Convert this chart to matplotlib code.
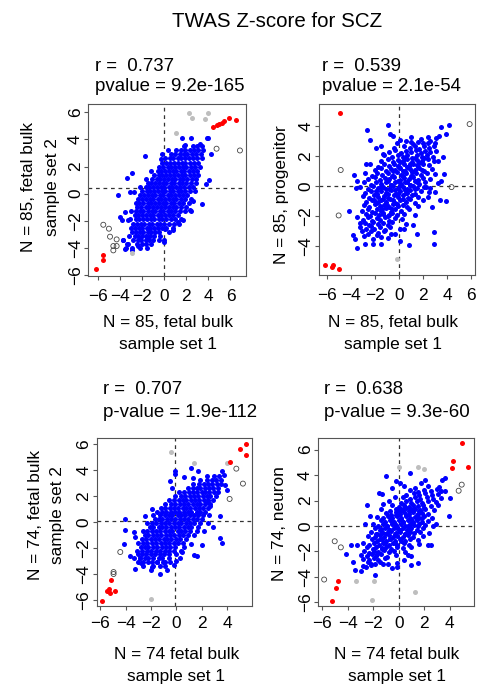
import matplotlib
matplotlib.use("Agg")
import matplotlib.pyplot as plt

plt.rcParams['font.family'] = ['Liberation Sans', 'DejaVu Sans']

W, H = 496, 691

title = "TWAS Z-score for SCZ"

# ---------------- panel 1: fetal bulk set 1 vs set 2 (N = 85) ----------------
p1_r = "r =  0.737"
p1_p = "pvalue = 9.2e-165"
p1_xlab = ["N = 85, fetal bulk", "sample set 1"]
p1_ylab = ["N = 85, fetal bulk", "sample set 2"]
p1_hline, p1_vline = 0.43, 0.0
p1_red = [(-6.19, -5.58), (-5.59, -4.55), (-5.53, -4.86), (4.38, 4.91), (4.77, 5.04),
          (4.98, 5.14), (5.2, 5.23), (5.44, 5.33), (5.86, 5.58), (6.47, 5.41)]
p1_grey = [(2.24, 5.95), (2.48, 5.6), (3.69, 5.53), (3.99, 5.97), (1.03, 4.5), (-2.96, -4.35)]
p1_open = [(4.74, 3.32), (6.86, 3.19), (-5.53, -2.29), (-5.02, -2.58), (-4.92, -3.17),
           (-4.32, -3.37), (-4.62, -3.86), (-4.32, -3.86), (-4.62, -4.18)]
p1_blue_out = [(-1.75, 2.75), (-3.41, 1.15), (-2.96, 1.55), (-4.23, -0.07), (-3.11, 0.12),
               (-2.72, 0.12), (-4.02, -1.72), (-3.56, -1.35), (-3.8, -1.97), (-3.32, -1.97),
               (-3.72, -3.44), (-3.41, -3.69), (-3.56, -4.05), (-2.96, -4.18), (-2.36, -3.86),
               (-2.2, -3.32), (-1.6, -3.19), (-1.45, -2.58), (-0.03, -3.56), (0.06, -2.58),
               (0.82, -2.7), (1.27, -2.09), (1.72, -1.97), (2.33, -1.23), (2.63, -0.57),
               (3.38, -0.79), (4.05, 0.98), (3.75, 0.74), (4.23, 2.9), (3.84, 4.1),
               (3.99, 4.1), (3.23, 3.69), (2.42, 4.1), (1.57, 4.1), (1.87, 3.56),
               (-0.24, 2.9), (-0.3, 2.58), (0.36, 3.19)]
p1_blue_rows = [
    (-4.0, [-3.5, -2.9, -2.2, -1.6]),
    (-3.7, [-3.3, -2.5, -2.0, -1.7, -1.2]),
    (-3.4, [-3.7, -2.8, -2.4, -2.1, -1.7, -1.4, -1.0, -0.5, 0.0]),
    (-3.1, [-3.2, -2.7, -2.4, -2.0, -1.7, -1.3, -0.9, -0.4]),
    (-2.8, [-2.9, -2.6, -2.2, -1.9, -1.5, -1.2, -0.8, -0.5, 0.4]),
    (-2.5, [-3.0, -2.7, -2.3, -2.0, -1.6, -1.3, -0.9, -0.6, -0.2, 0.2, 0.8]),
    (-2.2, [-2.8, -2.5, -2.1, -1.8, -1.4, -1.1, -0.7, -0.4, 0.0, 0.4, 0.9, 1.3]),
    (-1.9, [-3.1, -2.6, -2.3, -1.9, -1.6, -1.2, -0.9, -0.5, -0.2, 0.2, 0.6, 1.0, 1.5]),
    (-1.6, [-2.7, -2.4, -2.0, -1.7, -1.3, -1.0, -0.6, -0.3, 0.1, 0.4, 0.8, 1.2]),
    (-1.3, [-3.0, -2.6, -2.2, -1.9, -1.5, -1.1, -0.8, -0.4, -0.1, 0.3, 0.6, 1.0, 1.4, 1.9, 2.4]),
    (-1.0, [-2.5, -2.1, -1.7, -1.4, -1.0, -0.7, -0.3, 0.1, 0.4, 0.8, 1.1, 1.5, 2.0]),
    (-0.7, [-2.6, -2.3, -1.9, -1.5, -1.2, -0.8, -0.5, -0.1, 0.2, 0.6, 0.9, 1.3, 1.7, 2.2]),
    (-0.4, [-2.4, -2.0, -1.7, -1.3, -1.0, -0.6, -0.3, 0.1, 0.4, 0.8, 1.1, 1.5, 1.9, 2.4]),
    (-0.1, [-2.2, -1.8, -1.5, -1.1, -0.8, -0.4, -0.1, 0.3, 0.6, 1.0, 1.3, 1.7, 2.1]),
    (0.2, [-2.0, -1.6, -1.3, -0.9, -0.6, -0.2, 0.1, 0.5, 0.8, 1.2, 1.5, 1.9, 2.3, 2.8]),
    (0.5, [-2.2, -1.7, -1.4, -1.0, -0.7, -0.3, 0.0, 0.4, 0.7, 1.1, 1.4, 1.8, 2.2, 2.6]),
    (0.8, [-1.5, -1.2, -0.8, -0.5, -0.1, 0.2, 0.6, 0.9, 1.3, 1.6, 2.0, 2.4, 2.9]),
    (1.1, [-1.7, -1.1, -0.7, -0.4, 0.0, 0.3, 0.7, 1.0, 1.4, 1.7, 2.1, 2.5, 2.9]),
    (1.4, [-0.9, -0.5, -0.2, 0.2, 0.5, 0.9, 1.2, 1.6, 1.9, 2.3, 2.7, 3.1]),
    (1.7, [-1.2, -0.6, -0.3, 0.1, 0.4, 0.8, 1.1, 1.5, 1.8, 2.2, 2.6, 3.0]),
    (2.0, [-0.5, -0.1, 0.3, 0.6, 1.0, 1.3, 1.7, 2.0, 2.4, 2.8, 3.2]),
    (2.3, [-0.2, 0.2, 0.5, 0.9, 1.2, 1.6, 1.9, 2.3, 2.7, 3.1]),
    (2.6, [0.1, 0.5, 0.8, 1.2, 1.5, 1.9, 2.2, 2.6, 3.0, 3.4]),
    (2.9, [0.6, 1.0, 1.4, 1.8, 2.1, 2.5, 2.9, 3.3]),
    (3.2, [1.1, 1.5, 1.9, 2.3, 2.7, 3.1, 3.5]),
    (3.5, [1.8, 2.6, 3.0, 3.4]),
]

# ---------------- panel 2: fetal bulk set 1 vs progenitor (N = 85) ----------------
p2_r = "r =  0.539"
p2_p = "pvalue = 2.1e-54"
p2_xlab = ["N = 85, fetal bulk", "sample set 1"]
p2_ylab = ["N = 85, progenitor"]
p2_hline, p2_vline = 0.0, 0.0
p2_red = [(-4.92, 4.89), (-6.1, -5.24), (-5.55, -5.38), (-5.47, -5.29), (-5.0, -5.56)]
p2_grey = [(-0.17, -4.84)]
p2_open = [(5.86, 4.13), (-4.83, 1.07), (-5.0, -1.96), (4.36, -0.07)]
p2_blue_out = [(-2.62, 3.76), (-2.43, 3.09), (-0.91, 4.04), (-0.77, 3.44), (-0.5, 3.31),
               (-1.88, 2.56), (-1.33, 2.16), (-2.71, 1.49), (-3.76, 0.71), (-3.45, 0.33),
               (-3.54, -0.13), (-4.17, -1.64), (-3.45, -2.07), (-3.26, -2.44), (-3.81, -3.24),
               (-3.67, -3.51), (-3.45, -4.11), (-2.85, -3.84), (-2.15, -3.84), (-1.46, -3.4),
               (-1.46, -3.84), (-0.36, -3.22), (0.06, -3.67), (0.39, -2.84), (0.8, -3.91),
               (1.16, -2.62), (1.49, -3.18), (2.9, -3.07), (2.9, -3.89), (2.76, -1.4),
               (3.37, -0.91), (3.92, -1.0), (3.7, 0.82), (3.51, 0.31), (3.65, 1.93),
               (3.23, 1.64), (3.31, 3.33), (3.87, 3.44), (4.14, 4.04), (3.51, 3.93),
               (2.4, 2.89), (1.02, 2.93), (0.11, 3.04), (2.49, -0.4), (2.21, -0.07)]
p2_blue_core = [
    (-2.9, -3.35), (-2.15, -3.5), (-1.85, -3.28), (-0.95, -3.45),
    (-3.05, -3.0), (-2.55, -3.18), (-2.3, -3.02), (-1.75, -3.12), (-1.25, -2.98), (-0.65, -3.2),
    (-3.2, -2.72), (-2.75, -2.88), (-2.35, -2.68), (-2.05, -2.86), (-1.55, -2.74), (-1.15, -2.92),
    (-0.75, -2.7), (0.05, -2.84),
    (-2.85, -2.44), (-2.45, -2.62), (-2.15, -2.38), (-1.7, -2.52), (-1.35, -2.46), (-0.95, -2.6),
    (-0.55, -2.4), (0.6, -2.5),
    (-3.0, -2.24), (-2.6, -2.08), (-2.25, -2.3), (-1.85, -2.14), (-1.55, -2.26), (-1.15, -2.08),
    (-0.85, -2.3), (-0.35, -2.16), (0.25, -2.2),
    (-2.75, -1.84), (-2.4, -2.0), (-1.95, -1.78), (-1.65, -1.96), (-1.3, -1.82), (-0.95, -2.02),
    (-0.55, -1.78), (-0.2, -1.94), (0.45, -1.84), (1.3, -1.96),
    (-3.1, -1.64), (-2.6, -1.5), (-2.25, -1.72), (-1.8, -1.54), (-1.45, -1.66), (-1.05, -1.48),
    (-0.7, -1.7), (-0.3, -1.56), (0.15, -1.66), (0.85, -1.54),
    (-2.9, -1.24), (-2.45, -1.38), (-1.95, -1.2), (-1.6, -1.34), (-1.25, -1.26), (-0.85, -1.4),
    (-0.5, -1.18), (-0.05, -1.36), (0.35, -1.24), (0.7, -1.42), (1.6, -1.3),
    (-2.7, -1.04), (-2.25, -0.9), (-1.9, -1.1), (-1.5, -0.94), (-1.1, -1.06), (-0.75, -0.88),
    (-0.3, -1.1), (0.1, -0.94), (0.55, -1.06), (0.9, -0.88), (1.3, -1.12), (2.0, -0.96),
    (-3.0, -0.64), (-2.5, -0.8), (-2.05, -0.6), (-1.7, -0.76), (-1.25, -0.64), (-0.9, -0.82),
    (-0.45, -0.6), (-0.1, -0.76), (0.3, -0.62), (0.75, -0.8), (1.1, -0.58), (1.6, -0.76), (2.4, -0.7),
    (-2.8, -0.44), (-2.35, -0.3), (-1.85, -0.5), (-1.5, -0.34), (-1.05, -0.46), (-0.7, -0.28),
    (-0.25, -0.5), (0.1, -0.34), (0.55, -0.44), (0.9, -0.28), (1.35, -0.5), (1.8, -0.36), (3.0, -0.4),
    (-3.2, -0.06), (-2.6, -0.2), (-2.15, 0.0), (-1.7, -0.14), (-1.3, -0.04), (-0.85, -0.2),
    (-0.5, 0.02), (-0.05, -0.16), (0.3, -0.04), (0.7, -0.2), (1.15, 0.0), (1.5, -0.16),
    (2.05, -0.04), (2.6, -0.14),
    (-2.9, 0.24), (-2.35, 0.1), (-1.9, 0.3), (-1.45, 0.14), (-1.1, 0.26), (-0.7, 0.08),
    (-0.3, 0.3), (0.15, 0.14), (0.5, 0.26), (0.9, 0.1), (1.3, 0.32), (1.7, 0.16), (2.2, 0.24), (3.2, 0.2),
    (-2.6, 0.46), (-2.0, 0.6), (-1.6, 0.42), (-1.15, 0.56), (-0.8, 0.44), (-0.4, 0.62),
    (0.05, 0.4), (0.4, 0.56), (0.8, 0.44), (1.2, 0.62), (1.6, 0.42), (2.0, 0.56), (2.6, 0.5),
    (-2.8, 0.84), (-2.2, 0.7), (-1.8, 0.9), (-1.4, 0.74), (-0.95, 0.86), (-0.6, 0.7),
    (-0.2, 0.92), (0.2, 0.76), (0.6, 0.86), (1.0, 0.7), (1.4, 0.9), (1.8, 0.74), (2.3, 0.86), (3.0, 0.8),
    (-2.0, 1.06), (-1.5, 1.2), (-1.1, 1.02), (-0.7, 1.16), (-0.3, 1.04), (0.1, 1.2),
    (0.5, 1.02), (0.9, 1.16), (1.3, 1.04), (1.7, 1.2), (2.1, 1.0), (2.7, 1.12),
    (-2.4, 1.46), (-1.7, 1.3), (-1.2, 1.5), (-0.8, 1.34), (-0.4, 1.46), (0.0, 1.3),
    (0.4, 1.5), (0.8, 1.36), (1.2, 1.46), (1.6, 1.3), (2.0, 1.5), (2.5, 1.4),
    (-1.5, 1.66), (-0.9, 1.8), (-0.5, 1.62), (-0.1, 1.76), (0.3, 1.64), (0.7, 1.8),
    (1.1, 1.62), (1.5, 1.76), (1.9, 1.66), (2.4, 1.8), (2.9, 1.7),
    (-1.2, 2.06), (-0.6, 1.92), (-0.1, 2.1), (0.3, 1.96), (0.7, 2.06), (1.1, 1.9),
    (1.5, 2.1), (1.9, 1.96), (2.3, 2.06), (2.8, 1.96),
    (-0.8, 2.26), (-0.3, 2.4), (0.2, 2.22), (0.6, 2.36), (1.0, 2.24), (1.4, 2.4),
    (1.8, 2.22), (2.2, 2.36), (2.6, 2.26), (3.1, 2.36),
    (-1.5, 2.66), (-0.4, 2.52), (0.4, 2.7), (0.9, 2.56), (1.3, 2.66), (1.7, 2.5),
    (2.1, 2.7), (2.5, 2.56), (2.9, 2.66),
    (-0.2, 2.86), (0.6, 3.0), (1.2, 2.82), (1.6, 2.96), (2.0, 2.84), (2.6, 3.0), (3.0, 2.9),
    (1.0, 3.26), (1.8, 3.12), (2.4, 3.3), (3.1, 3.2),
]
# extra points where the central cloud is densest
p2_blue_dense = [
    (-1.3, -0.85), (-0.9, -0.5), (-0.5, -0.9), (-0.1, -0.55), (0.3, -0.85), (0.7, -0.45),
    (-1.1, -0.2), (-0.7, 0.1), (-0.3, -0.25), (0.1, 0.05), (0.5, -0.25), (0.9, 0.05), (1.3, -0.2),
    (-0.9, 0.35), (-0.5, 0.7), (-0.1, 0.35), (0.3, 0.65), (0.7, 0.3), (1.1, 0.7), (1.5, 0.3),
    (-0.5, 1.0), (-0.1, 1.35), (0.3, 1.0), (0.7, 1.3), (1.1, 0.95), (1.5, 1.4), (1.9, 1.1),
    (0.1, 1.6), (0.5, 1.85), (0.9, 1.5), (1.3, 1.85), (1.7, 1.55), (2.1, 1.85),
    (-1.7, -1.05), (-1.4, -1.5), (-1.0, -1.25), (-0.6, -1.5), (-0.2, -1.2),
    (-1.9, -0.35), (-1.5, -0.05), (-2.1, -0.9), (-1.3, -1.85), (-0.8, -1.95),
]

# ---------------- panel 3: fetal bulk set 1 vs set 2 (N = 74) ----------------
p3_r = "r =  0.707"
p3_p = "p-value = 1.9e-112"
p3_xlab = ["N = 74 fetal bulk", "sample set 1"]
p3_ylab = ["N = 74, fetal bulk", "sample set 2"]
p3_hline, p3_vline = 0.08, -0.08
p3_red = [(-5.87, -6.05), (-5.47, -5.33), (-5.21, -5.46), (-5.34, -5.13), (-4.82, -5.28),
          (-5.16, -4.44), (4.26, 4.62), (5.05, 5.64), (5.5, 6.03), (5.53, 5.13)]
p3_grey = [(-0.42, 5.36), (1.37, 4.54), (4.0, 4.56), (-1.97, -5.9)]
p3_open = [(4.74, 4.1), (5.26, 2.95), (4.21, 1.77), (-4.42, -2.31), (-4.95, -3.85), (-4.95, -4.0)]
p3_blue_out = [(-4.08, 0.23), (-4.03, -0.64), (-4.16, -1.67), (-3.37, -0.79), (-3.29, -1.15),
               (-3.68, -2.64), (-3.24, -3.59), (-2.84, -2.77), (-2.76, -3.15), (-1.92, -3.49),
               (-1.26, -4.0), (-1.53, -3.1), (-1.05, -3.08), (-0.21, -3.33), (-0.03, -2.97),
               (0.32, -2.77), (0.45, -2.31), (1.37, -2.56), (1.63, -2.64), (1.18, -1.67),
               (2.03, -1.79), (3.47, -1.23), (3.61, -1.62), (2.89, -0.38), (3.42, 0.49),
               (2.63, 1.21), (2.5, 1.54), (4.0, 2.49), (3.82, 2.87), (3.61, 3.95),
               (3.74, 3.64), (1.71, 3.95), (1.18, 4.15), (1.32, 3.38), (-0.13, 3.9),
               (-0.13, 3.72), (-0.53, 3.18), (-0.34, 2.62), (-1.92, 1.0), (-2.45, 0.49),
               (0.58, 3.44)]
p3_blue_rows = [
    (-3.7, [-2.0, -0.7]),
    (-3.4, [-2.6, -1.8, -1.3, -0.9]),
    (-3.1, [-3.0, -2.6, -2.2, -1.9, -1.5, -0.9, -0.5]),
    (-2.8, [-3.3, -2.9, -2.5, -2.2, -1.8, -1.4, -1.1, -0.6]),
    (-2.5, [-3.0, -2.7, -2.4, -2.0, -1.7, -1.3, -1.0, -0.6, 0.0]),
    (-2.2, [-3.1, -2.7, -2.3, -2.0, -1.6, -1.3, -0.9, -0.6, -0.2, 0.4]),
    (-1.9, [-2.8, -2.5, -2.2, -1.8, -1.5, -1.1, -0.8, -0.5, -0.1, 0.6]),
    (-1.6, [-3.0, -2.6, -2.3, -1.9, -1.6, -1.2, -0.9, -0.6, -0.2, 0.1, 0.5]),
    (-1.3, [-2.7, -2.4, -2.0, -1.7, -1.4, -1.0, -0.7, -0.4, 0.0, 0.3, 0.8]),
    (-1.0, [-2.5, -2.2, -1.8, -1.5, -1.2, -0.8, -0.5, -0.2, 0.2, 0.5, 0.9, 1.4]),
    (-0.7, [-2.6, -2.3, -1.9, -1.6, -1.3, -0.9, -0.6, -0.3, 0.1, 0.4, 0.7, 1.1, 1.6, 2.2]),
    (-0.4, [-2.1, -1.8, -1.4, -1.1, -0.8, -0.4, -0.1, 0.2, 0.6, 0.9, 1.2, 1.7]),
    (-0.1, [-2.3, -1.9, -1.6, -1.2, -0.9, -0.6, -0.2, 0.1, 0.4, 0.8, 1.1, 1.4, 1.9, 2.5]),
    (0.2, [-1.7, -1.4, -1.1, -0.7, -0.4, -0.1, 0.3, 0.6, 0.9, 1.3, 1.6, 2.0]),
    (0.5, [-1.8, -1.3, -0.9, -0.6, -0.3, 0.1, 0.4, 0.7, 1.1, 1.4, 1.7, 2.1, 2.6]),
    (0.8, [-1.5, -1.1, -0.8, -0.4, -0.1, 0.2, 0.6, 0.9, 1.2, 1.6, 1.9, 2.3]),
    (1.1, [-1.2, -0.9, -0.5, -0.2, 0.1, 0.5, 0.8, 1.1, 1.5, 1.8, 2.1, 2.5]),
    (1.4, [-0.9, -0.4, -0.1, 0.3, 0.6, 0.9, 1.3, 1.6, 1.9, 2.3, 2.7]),
    (1.7, [-0.6, -0.2, 0.2, 0.5, 0.8, 1.2, 1.5, 1.8, 2.2, 2.5, 2.9]),
    (2.0, [-0.1, 0.4, 0.7, 1.1, 1.4, 1.7, 2.1, 2.4, 2.7, 3.1]),
    (2.3, [0.2, 0.6, 1.0, 1.3, 1.6, 2.0, 2.3, 2.6, 3.0, 3.3]),
    (2.6, [0.9, 1.3, 1.6, 1.9, 2.3, 2.6, 2.9, 3.3]),
    (2.9, [1.3, 1.8, 2.2, 2.5, 2.8, 3.2, 3.5]),
    (3.2, [1.9, 2.4, 2.8, 3.1, 3.5]),
    (3.5, [2.4, 3.0, 3.4]),
]

# ---------------- panel 4: fetal bulk set 1 vs neuron (N = 74) ----------------
p4_r = "r =  0.638"
p4_p = "p-value = 9.3e-60"
p4_xlab = ["N = 74 fetal bulk", "sample set 1"]
p4_ylab = ["N = 74, neuron"]
p4_hline, p4_vline = 0.0, 0.0
p4_red = [(5.0, 6.49), (4.27, 5.08), (4.19, 4.55), (5.47, 4.66), (-4.76, -4.35),
          (-4.95, -4.87), (-5.21, -5.86)]
p4_grey = [(0.0, 4.63), (1.52, 4.63), (1.99, 4.5), (-3.32, -4.29), (-1.94, -4.35),
           (-2.07, -5.84), (1.31, -5.21)]
p4_open = [(4.95, 3.25), (4.71, 2.77), (-5.03, -1.2), (-4.55, -1.68), (-5.86, -4.21)]
p4_blue_out = [(-0.97, 3.9), (-0.24, 3.51), (0.13, 3.38), (0.92, 4.16), (1.78, 3.38),
               (2.04, 3.59), (3.43, 3.64), (3.61, 3.77), (3.35, 2.72), (4.0, 2.2),
               (3.95, 0.76), (2.7, 0.03), (2.3, -1.47), (2.51, -1.47), (1.52, -2.91),
               (0.99, -3.04), (0.99, -2.38), (0.73, -2.25), (-0.1, -2.91), (-0.1, -3.25),
               (-0.84, -2.98), (-1.88, -3.82), (-2.15, -2.98), (-2.8, -3.17), (-2.93, -3.56),
               (-3.46, -3.48), (-3.59, -2.83), (-4.11, -2.2), (-3.72, -1.47), (-3.27, -1.52),
               (-2.67, 0.16), (-2.28, 0.76), (-2.46, 1.62), (-1.54, 2.59), (-1.23, 1.73),
               (-0.52, 2.98), (-0.31, 2.25)]
p4_blue_core = [
    (-2.6, -3.25), (-2.15, -3.1), (-0.5, -3.3),
    (-2.45, -2.85), (-1.9, -3.0), (-1.45, -2.82), (-1.2, -2.96),
    (-2.8, -2.56), (-2.3, -2.7), (-1.95, -2.52), (-1.6, -2.66), (-1.05, -2.55), (0.4, -2.65),
    (-3.0, -2.26), (-2.5, -2.38), (-2.1, -2.22), (-1.75, -2.36), (-1.4, -2.24), (-0.9, -2.4),
    (-0.2, -2.28),
    (-2.7, -1.96), (-2.3, -2.1), (-1.95, -1.94), (-1.6, -2.06), (-1.15, -1.92), (-0.8, -2.08),
    (-0.4, -1.96), (0.5, -2.04),
    (-2.5, -1.66), (-2.05, -1.8), (-1.8, -1.62), (-1.35, -1.76), (-1.0, -1.64), (-0.6, -1.78),
    (-0.15, -1.66), (0.3, -1.74), (1.0, -1.66),
    (-2.8, -1.36), (-2.3, -1.5), (-1.95, -1.34), (-1.55, -1.46), (-1.2, -1.32), (-0.8, -1.48),
    (-0.45, -1.36), (-0.1, -1.48), (0.4, -1.34), (0.8, -1.46), (1.6, -1.38),
    (-2.1, -1.06), (-1.7, -1.2), (-1.35, -1.04), (-1.0, -1.16), (-0.65, -1.02), (-0.3, -1.18),
    (0.1, -1.06), (0.5, -1.2), (0.9, -1.04), (1.5, -1.14),
    (-2.4, -0.76), (-1.9, -0.9), (-1.5, -0.74), (-1.15, -0.86), (-0.8, -0.72), (-0.45, -0.88),
    (-0.1, -0.76), (0.3, -0.9), (0.7, -0.74), (1.1, -0.86), (1.9, -0.8),
    (-2.2, -0.46), (-1.7, -0.6), (-1.3, -0.44), (-0.95, -0.58), (-0.6, -0.42), (-0.25, -0.56),
    (0.1, -0.44), (0.5, -0.6), (0.85, -0.46), (1.2, -0.58), (1.7, -0.44), (2.4, -0.52),
    (-1.9, -0.16), (-1.5, -0.3), (-1.1, -0.14), (-0.75, -0.28), (-0.4, -0.12), (-0.05, -0.26),
    (0.3, -0.14), (0.65, -0.3), (1.0, -0.16), (1.4, -0.28), (1.9, -0.18),
    (-2.0, 0.14), (-1.6, 0.0), (-1.25, 0.16), (-0.9, 0.02), (-0.55, 0.18), (-0.2, 0.04),
    (0.15, 0.16), (0.5, 0.02), (0.85, 0.18), (1.2, 0.04), (1.6, 0.16), (2.1, 0.06), (2.9, 0.12),
    (-1.4, 0.44), (-1.05, 0.3), (-0.7, 0.46), (-0.35, 0.32), (0.0, 0.48), (0.35, 0.34),
    (0.7, 0.46), (1.05, 0.3), (1.4, 0.44), (1.8, 0.32), (2.3, 0.42),
    (-1.7, 0.74), (-1.2, 0.6), (-0.85, 0.76), (-0.5, 0.62), (-0.15, 0.78), (0.2, 0.64),
    (0.55, 0.76), (0.9, 0.6), (1.25, 0.74), (1.6, 0.62), (2.0, 0.76), (2.6, 0.66),
    (-1.0, 1.04), (-0.6, 0.9), (-0.25, 1.06), (0.1, 0.92), (0.45, 1.08), (0.8, 0.94),
    (1.15, 1.06), (1.5, 0.92), (1.85, 1.04), (2.3, 0.96),
    (-1.4, 1.34), (-0.7, 1.2), (-0.2, 1.36), (0.2, 1.22), (0.6, 1.38), (0.95, 1.24),
    (1.3, 1.36), (1.7, 1.22), (2.1, 1.34), (2.8, 1.26),
    (-0.5, 1.64), (0.0, 1.5), (0.4, 1.66), (0.8, 1.52), (1.15, 1.68), (1.5, 1.54),
    (1.9, 1.66), (2.5, 1.56), (3.1, 1.64),
    (-0.8, 1.94), (0.2, 1.8), (0.6, 1.96), (1.0, 1.82), (1.4, 1.98), (1.8, 1.84),
    (2.3, 1.96), (2.9, 1.86),
    (0.3, 2.24), (0.9, 2.1), (1.3, 2.26), (1.7, 2.12), (2.2, 2.26), (2.7, 2.14), (3.3, 2.22),
    (-1.3, 2.54), (0.6, 2.4), (1.2, 2.56), (1.6, 2.42), (2.1, 2.58), (2.6, 2.44), (3.1, 2.54),
    (0.9, 2.84), (1.5, 2.7), (2.0, 2.86), (2.5, 2.72), (3.0, 2.88), (3.6, 2.76),
    (0.4, 3.14), (1.3, 3.0), (2.3, 3.16), (3.2, 3.04),
]
# extra points where the central cloud is densest
p4_blue_dense = [
    (-1.1, -0.6), (-0.7, -0.3), (-0.3, -0.65), (0.1, -0.3), (0.5, -0.6), (0.9, -0.25),
    (-0.9, 0.0), (-0.5, 0.3), (-0.1, -0.05), (0.3, 0.3), (0.7, 0.0), (1.1, 0.3), (1.5, 0.0),
    (-0.6, 0.6), (-0.2, 0.9), (0.2, 0.55), (0.6, 0.9), (1.0, 0.55), (1.4, 0.9), (1.8, 0.6),
    (0.0, 1.15), (0.4, 1.4), (0.8, 1.15), (1.2, 1.45), (1.6, 1.15), (2.0, 1.45),
    (-1.5, -1.0), (-1.1, -1.3), (-0.7, -1.05), (-0.3, -1.35), (0.2, -1.2),
    (-1.4, -0.25), (-1.8, -0.6), (-1.3, -1.8), (-1.7, -2.2),
]


def from_rows(rows):
    return [(x, y) for y, row in rows for x in row]


p1_blue = from_rows(p1_blue_rows) + p1_blue_out
p2_blue = p2_blue_core + p2_blue_dense + p2_blue_out
p3_blue = from_rows(p3_blue_rows) + p3_blue_out
p4_blue = p4_blue_core + p4_blue_dense + p4_blue_out

# ---------------- layout (pixels in the 496x691 canvas) ----------------
panels = [
    dict(box=(88.3, 103.7, 246.0, 276.0), xlim=(-6.89, 7.41), ylim=(-6.07, 6.64),
         xt=[-6, -4, -2, 0, 2, 4, 6], yt=[-6, -4, -2, 0, 2, 4, 6], xpad=6.3,
         blue=p1_blue, red=p1_red, grey=p1_grey, opn=p1_open,
         hv=(p1_hline, p1_vline), r=p1_r, p=p1_p, txt=(95, 70.7, 91.2),
         xlab=p1_xlab, xl=(168, 327.3, 349.3), ylab=p1_ylab, yl=([33, 57], 187)),
    dict(box=(319.0, 103.7, 475.3, 275.3), xlim=(-6.63, 6.33), ylim=(-5.95, 5.49),
         xt=[-6, -4, -2, 0, 2, 4, 6], yt=[-4, -2, 0, 2, 4], xpad=6.3,
         blue=p2_blue, red=p2_red, grey=p2_grey, opn=p2_open,
         hv=(p2_hline, p2_vline), r=p2_r, p=p2_p, txt=(321.7, 70.7, 91.2),
         xlab=p2_xlab, xl=(392.5, 327.3, 349.3), ylab=p2_ylab, yl=([286.3], 195)),
    dict(box=(96.7, 437.7, 252.3, 606.0), xlim=(-6.28, 6.0), ylim=(-6.46, 6.48),
         xt=[-6, -4, -2, 0, 2, 4], yt=[-6, -4, -2, 0, 2, 4, 6], xpad=4.0,
         blue=p3_blue, red=p3_red, grey=p3_grey, opn=p3_open,
         hv=(p3_hline, p3_vline), r=p3_r, p=p3_p, txt=(103.3, 394.3, 416.7),
         xlab=p3_xlab, xl=(176.4, 659.3, 681), ylab=p3_ylab, yl=([40, 62], 515)),
    dict(box=(318.3, 437.7, 474.3, 606.0), xlim=(-6.32, 5.94), ylim=(-6.29, 6.94),
         xt=[-6, -4, -2, 0, 2, 4], yt=[-6, -4, -2, 0, 2, 4, 6], xpad=4.0,
         blue=p4_blue, red=p4_red, grey=p4_grey, opn=p4_open,
         hv=(p4_hline, p4_vline), r=p4_r, p=p4_p, txt=(324, 394.3, 416.7),
         xlab=p4_xlab, xl=(397, 659.3, 681), ylab=p4_ylab, yl=([284.5], 524)),
]

TICK = 12.4
LAB = 12.4
STAT = 13.4
BOX = '#555555'
DOT = 13


def fx(x):
    return x / W


def fy(y):
    return 1 - y / H


def minus(v):
    return str(v).replace('-', '\u2212')


fig = plt.figure(figsize=(W / 100, H / 100), dpi=100)

for pn in panels:
    l, t, r, b = pn['box']
    ax = fig.add_axes([fx(l), fy(b), (r - l) / W, (b - t) / H])
    ax.set_xlim(*pn['xlim'])
    ax.set_ylim(*pn['ylim'])

    ax.axhline(pn['hv'][0], color='#333333', lw=0.9, ls=(0, (3, 3)), zorder=1)
    ax.axvline(pn['hv'][1], color='#333333', lw=0.9, ls=(0, (3, 3)), zorder=1)

    ax.scatter([p[0] for p in pn['blue']], [p[1] for p in pn['blue']],
               s=DOT, c='#0000FF', linewidths=0, zorder=2)
    ax.scatter([p[0] for p in pn['grey']], [p[1] for p in pn['grey']],
               s=DOT, c='#BEBEBE', linewidths=0, zorder=2)
    ax.scatter([p[0] for p in pn['red']], [p[1] for p in pn['red']],
               s=DOT, c='#FF0000', linewidths=0, zorder=3)
    ax.scatter([p[0] for p in pn['opn']], [p[1] for p in pn['opn']],
               s=DOT, facecolors='none', edgecolors='#444444', linewidths=0.6, zorder=3)

    ax.set_xticks(pn['xt'], [minus(v) for v in pn['xt']])
    ax.set_yticks(pn['yt'], [minus(v) for v in pn['yt']], rotation=90, va='center')
    ax.tick_params(direction='out', length=3.2, width=0.8, color=BOX, labelsize=TICK)
    ax.tick_params(axis='x', pad=pn['xpad'])
    ax.tick_params(axis='y', pad=0.7)
    for sp in ax.spines.values():
        sp.set_color(BOX)
        sp.set_linewidth(0.8)

    # stats above the panel
    tx, ty1, ty2 = pn['txt']
    fig.text(fx(tx), fy(ty1), pn['r'], fontsize=STAT, va='baseline', ha='left')
    fig.text(fx(tx), fy(ty2), pn['p'], fontsize=STAT, va='baseline', ha='left')

    # x label lines
    cx, b1, b2 = pn['xl']
    fig.text(fx(cx), fy(b1), pn['xlab'][0], fontsize=LAB, va='baseline', ha='center')
    fig.text(fx(cx), fy(b2), pn['xlab'][1], fontsize=LAB, va='baseline', ha='center')

    # y label lines (rotated)
    xs, cy = pn['yl']
    for xb, s in zip(xs, pn['ylab']):
        fig.text(fx(xb), fy(cy), s, fontsize=LAB, rotation=90, rotation_mode='anchor',
                 va='baseline', ha='center')

fig.text(fx(277.5), fy(27.3), title, fontsize=14.8, va='baseline', ha='center')

fig.savefig('out.png', dpi=100)
